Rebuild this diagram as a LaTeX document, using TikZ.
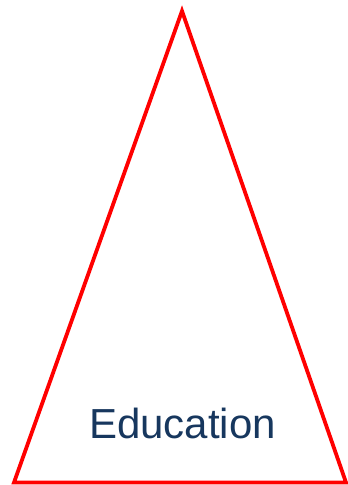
\documentclass[tikz,border=0pt]{standalone}
\usepackage{fontspec}
\setmainfont{Liberation Sans}
\usetikzlibrary{positioning}
\definecolor{edublue}{RGB}{23,55,94}

\begin{document}
\begin{tikzpicture}[
    x=1pt, y=1pt,
    edge/.style={draw=red, line width=3.8pt, line join=miter},
    label/.style={text=edublue, font=\fontsize{42}{50}\selectfont, inner sep=0pt}
]
\useasboundingbox (0,0) rectangle (348,485);

% Corners
\coordinate (apex) at (182,474);
\coordinate (left) at (14,2.5);
\coordinate (right) at (346,2.5);

% Triangle
\draw[edge] (apex) -- (right) -- (left) -- cycle;

% Label
\node[label, anchor=base] (edu) at (182.5,46) {Education};

\end{tikzpicture}
\end{document}
